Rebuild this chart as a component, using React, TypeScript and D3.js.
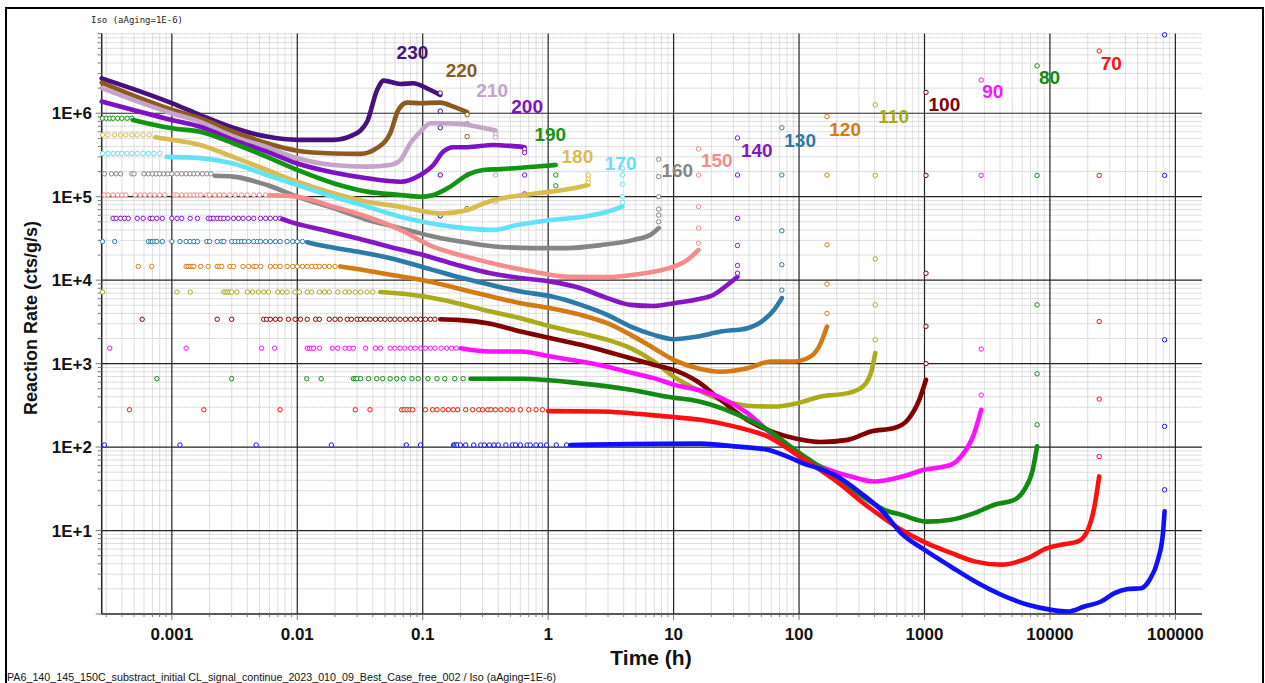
import React from 'react';
import * as d3 from 'd3';

type Pt = [number, number];

// ---------- DATA (time in h, rate in cts/g/s) ----------
const temperatures = [230, 220, 210, 200, 190, 180, 170, 160, 150, 140, 130, 120, 110, 100, 90, 80, 70, 60];
const seriesColors = ['#46107f', '#8c5a1e', '#c4a4c8', '#7f10c4', '#129612', '#d9bc4e', '#62e2f6', '#858585', '#f58c8c', '#8416c4', '#2a7aaa', '#d47a12', '#aaaa1a', '#820000', '#ff10ff', '#108a10', '#ff1010', '#1010ff'];
const showLabel = [true, true, true, true, true, true, true, true, true, true, true, true, true, true, true, true, true, false];
const labelTimes = [0.0828, 0.204, 0.358, 0.68, 1.04, 1.71, 3.78, 10.7, 22.1, 46, 102, 233, 568, 1440, 3500, 9910, 30800, 0];
const labelRates = [4.47e6, 2.72e6, 1.57e6, 1.01e6, 4.7e5, 2.56e5, 2.09e5, 1.73e5, 2.29e5, 3.02e5, 3.98e5, 5.4e5, 7.6e5, 1.07e6, 1.54e6, 2.24e6, 3.3e6, 0];

const c230: Pt[] = [[2.76e-4, 2.62e6], [1e-3, 1.32e6], [1.68e-3, 9.5e5], [3.08e-3, 6.7e5], [5.73e-3, 5.25e5], [0.01, 4.8e5], [0.0194, 4.8e5], [0.028, 5.5e5], [0.036, 7.9e5], [0.0433, 1.9e6], [0.0489, 2.46e6], [0.0664, 2.24e6], [0.0843, 2.29e6], [0.108, 1.99e6], [0.138, 1.66e6]];
const c220: Pt[] = [[2.76e-4, 2.32e6], [1e-3, 1.1e6], [1.68e-3, 8.7e5], [3.1e-3, 6.0e5], [5.73e-3, 4.37e5], [0.01, 3.56e5], [0.0194, 3.3e5], [0.0318, 3.26e5], [0.0433, 3.84e5], [0.0552, 5.8e5], [0.064, 1.1e6], [0.075, 1.34e6], [0.0957, 1.32e6], [0.138, 1.34e6], [0.176, 1.2e6], [0.226, 1.03e6]];
const c210: Pt[] = [[2.76e-4, 2.0e6], [1e-3, 1.0e6], [1.68e-3, 7.9e5], [3.08e-3, 5.25e5], [5.73e-3, 3.92e5], [0.01, 2.89e5], [0.0194, 2.4e5], [0.036, 2.29e5], [0.0552, 2.4e5], [0.0664, 2.75e5], [0.0798, 4.4e5], [0.0957, 6.0e5], [0.115, 7.6e5], [0.138, 7.6e5], [0.2, 7.45e5], [0.272, 6.9e5], [0.38, 6.2e5]];
const c200: Pt[] = [[2.76e-4, 1.38e6], [1e-3, 8.3e5], [1.68e-3, 6.9e5], [3.08e-3, 4.8e5], [5.73e-3, 3.47e5], [0.01, 2.5e5], [0.0194, 1.95e5], [0.036, 1.66e5], [0.0664, 1.51e5], [0.0957, 1.82e5], [0.1216, 2.4e5], [0.146, 3.47e5], [0.176, 3.92e5], [0.226, 3.92e5], [0.366, 4.17e5], [0.5, 4.06e5], [0.649, 3.92e5]];
const c190: Pt[] = [[4.9e-4, 8.3e5], [1e-3, 6.6e5], [1.68e-3, 6.0e5], [3.08e-3, 4.37e5], [5.73e-3, 3.0e5], [0.01, 2.09e5], [0.0194, 1.45e5], [0.036, 1.15e5], [0.0664, 1.05e5], [0.0957, 1.0e5], [0.1216, 1.05e5], [0.166, 1.32e5], [0.226, 1.82e5], [0.305, 2.09e5], [0.417, 2.14e5], [0.766, 2.29e5], [1.15, 2.4e5]];
const c180: Pt[] = [[7.4e-4, 5.16e5], [1e-3, 4.8e5], [1.68e-3, 4.17e5], [3.08e-3, 3.0e5], [5.73e-3, 2.09e5], [0.01, 1.51e5], [0.0194, 1.1e5], [0.036, 8.7e4], [0.0664, 7.6e4], [0.138, 6.3e4], [0.226, 6.9e4], [0.305, 8.3e4], [0.417, 9.5e4], [0.637, 1.05e5], [1.05, 1.15e5], [1.59, 1.26e5], [2.09, 1.38e5]];
const c170: Pt[] = [[9.1e-4, 3.0e5], [1.68e-3, 2.9e5], [3.08e-3, 2.5e5], [5.73e-3, 1.82e5], [0.01, 1.38e5], [0.0194, 1.0e5], [0.036, 7.6e4], [0.0664, 5.75e4], [0.115, 4.8e4], [0.226, 4.17e4], [0.366, 4.0e4], [0.566, 4.57e4], [1.05, 5.25e4], [1.91, 5.75e4], [2.96, 6.6e4], [3.9, 7.6e4]];
const c160: Pt[] = [[2.2e-3, 1.78e5], [3.08e-3, 1.74e5], [5.73e-3, 1.38e5], [0.01, 1.0e5], [0.0194, 7.3e4], [0.036, 5.3e4], [0.0664, 4.2e4], [0.1216, 3.33e4], [0.226, 2.82e4], [0.417, 2.5e4], [0.766, 2.42e4], [1.42, 2.42e4], [2.62, 2.63e4], [4.8, 3.04e4], [6.56, 3.5e4], [7.6, 4.2e4]];
const c150: Pt[] = [[6.0e-3, 1.04e5], [0.01, 1.0e5], [0.0194, 7.6e4], [0.036, 5.75e4], [0.0664, 4.0e4], [0.1216, 2.5e4], [0.226, 1.9e4], [0.417, 1.51e4], [0.766, 1.26e4], [1.42, 1.1e4], [2.96, 1.09e4], [4.55, 1.15e4], [6.95, 1.26e4], [10, 1.45e4], [12.9, 1.75e4], [15.8, 2.3e4]];
const c140: Pt[] = [[7.6e-3, 5.4e4], [8.8e-3, 5.0e4], [0.0161, 4.0e4], [0.0299, 3.18e4], [0.0552, 2.5e4], [0.101, 2.0e4], [0.188, 1.52e4], [0.347, 1.21e4], [0.603, 1.06e4], [1.05, 9.6e3], [1.82, 8.0e3], [2.96, 6.1e3], [4.55, 5.06e3], [6.95, 4.9e3], [10, 5.3e3], [15.5, 5.9e3], [20.9, 6.7e3], [26.9, 8.8e3], [32.3, 1.1e4]];
const c130: Pt[] = [[0.012, 2.85e4], [0.0161, 2.58e4], [0.0299, 2.2e4], [0.0552, 1.83e4], [0.101, 1.43e4], [0.188, 1.1e4], [0.347, 8.8e3], [0.603, 7.3e3], [1.05, 6.4e3], [1.82, 5.06e3], [2.96, 3.84e3], [4.55, 2.78e3], [6.95, 2.21e3], [10, 1.96e3], [15.5, 2.11e3], [23.8, 2.42e3], [38.8, 2.66e3], [52.6, 3.35e3], [63.2, 4.4e3], [72.9, 6.1e3]];
const c120: Pt[] = [[0.022, 1.46e4], [0.0299, 1.36e4], [0.0552, 1.16e4], [0.101, 1.0e4], [0.188, 8.0e3], [0.347, 6.4e3], [0.603, 5.3e3], [1.05, 4.6e3], [1.82, 3.84e3], [2.96, 3.05e3], [4.55, 2.21e3], [6.95, 1.53e3], [10, 1.11e3], [15.5, 8.8e2], [23.8, 8.0e2], [38.8, 8.8e2], [59.6, 1.06e3], [91.4, 1.06e3], [124, 1.22e3], [149, 1.76e3], [167, 2.78e3]];
const c110: Pt[] = [[0.0459, 7.2e3], [0.101, 6.4e3], [0.188, 5.3e3], [0.347, 4.2e3], [0.603, 3.5e3], [1.05, 2.78e3], [1.82, 2.32e3], [2.96, 1.93e3], [4.55, 1.53e3], [6.95, 1.06e3], [10, 7.0e2], [15.5, 4.86e2], [23.8, 3.69e2], [38.8, 3.13e2], [63.2, 3.06e2], [97.3, 3.36e2], [149, 4.04e2], [244, 4.43e2], [311, 5.1e2], [374, 7.7e2], [405, 1.34e3]];
const c100: Pt[] = [[0.138, 3.4e3], [0.188, 3.34e3], [0.347, 3.0e3], [0.603, 2.42e3], [1.05, 2.02e3], [1.82, 1.68e3], [2.96, 1.39e3], [4.55, 1.16e3], [6.95, 9.7e2], [10, 8.4e2], [15.5, 6.1e2], [23.8, 3.66e2], [38.8, 2.11e2], [63.2, 1.5e2], [97.3, 1.25e2], [149, 1.15e2], [244, 1.22e2], [374, 1.54e2], [574, 1.69e2], [735, 2.12e2], [908, 3.68e2], [1028, 6.4e2]];
const c90: Pt[] = [[0.2, 1.53e3], [0.347, 1.4e3], [0.603, 1.4e3], [1.05, 1.22e3], [1.82, 1.06e3], [2.96, 9.2e2], [4.55, 7.8e2], [6.95, 6.7e2], [10, 5.6e2], [15.5, 4.86e2], [23.8, 3.9e2], [38.8, 2.55e2], [63.2, 1.34e2], [92.2, 84.7], [149, 58.5], [259, 44.4], [398, 38.7], [651, 44], [995, 53.5], [1626, 61.4], [1954, 77], [2495, 147], [2830, 280]];
const c80: Pt[] = [[0.24, 6.6e2], [0.603, 6.6e2], [1.82, 5.8e2], [4.55, 4.86e2], [10, 3.9e2], [13.7, 3.68e2], [30.3, 2.55e2], [56.1, 1.61e2], [92.2, 93], [191, 44.5], [352, 23.4], [478, 17.7], [651, 15.5], [1028, 12.8], [1626, 13.5], [2495, 16.2], [3606, 20.4], [5212, 23.4], [6252, 30.8], [7295, 53.5], [7900, 102]];
const c70: Pt[] = [[1.0, 2.7e2], [2.62, 2.67e2], [8.9, 2.32e2], [16.4, 2.12e2], [30.3, 1.77e2], [56.1, 1.34e2], [92.2, 84.7], [191, 40.6], [352, 19.5], [651, 10.2], [1028, 7.1], [1626, 5.4], [2495, 4.27], [4083, 3.9], [6668, 4.68], [9616, 6.2], [12270, 6.76], [16700, 7.4], [20050, 10.2], [22650, 19.5], [24700, 44.5]];
const c60: Pt[] = [[1.5, 1.06e2], [16.4, 1.1e2], [30.3, 1.02e2], [56.1, 93], [80.9, 77], [110, 63], [141, 56], [191, 46.6], [311, 28.1], [478, 16.2], [651, 9.3], [995, 5.9], [1626, 3.69], [2660, 2.35], [4083, 1.7], [6668, 1.29], [10230, 1.12], [13900, 1.07], [18840, 1.23], [25600, 1.41], [32700, 1.78], [41800, 1.99], [53400, 2.04], [62300, 2.57], [72600, 4.47], [79600, 9.3], [82000, 17]];

const tail230 = [1.75e6, 1.06e6, 6.7e5, 1.82e5, 5.9e4];
const tail220 = [9.6e5, 7.45e5, 5.25e5, 1.82e5, 7.2e4];
const tail210 = [5.6e5, 5.16e5, 1.82e5, 8.7e4];
const tail200 = [3.7e5, 3.37e5, 1.82e5, 1.08e5];
const tail190 = [1.82e5, 1.35e5];
const tail180 = [1.5e5, 1.65e5, 1.82e5];
const tail170 = [8.5e4, 1.0e5, 1.41e5, 1.82e5, 2.19e5];
const tail160 = [5.0e4, 6.0e4, 7.1e4, 1.0e5, 1.74e5, 2.81e5];
const tail150 = [2.77e4, 4.2e4, 7.6e4, 1.82e5, 3.73e5];
const tail140 = [1.21e4, 1.5e4, 2.6e4, 5.5e4, 1.82e5, 5.06e5];
const tail130 = [7.6e3, 1.53e4, 3.9e4, 1.82e5, 6.7e5];
const tail120 = [4.0e3, 8.96e3, 2.65e4, 1.82e5, 9.1e5];
const tail110 = [1.93e3, 5.06e3, 1.8e4, 1.8e5, 1.26e6];
const tail100 = [1.0e3, 2.8e3, 1.21e4, 1.8e5, 1.78e6];
const tail90 = [4.2e2, 1.49e3, 1.8e5, 2.5e6];
const tail80 = [1.85e2, 7.55e2, 5.06e3, 1.8e5, 3.7e6];
const tail70 = [77, 3.76e2, 3.19e3, 1.8e5, 5.57e6];
const tail60 = [30.8, 1.77e2, 1.93e3, 1.8e5, 8.7e6];

const levels = [0, 0, 0, 0, 8.7e5, 5.5e5, 3.3e5, 1.88e5, 1.05e5, 5.5e4, 2.9e4, 1.46e4, 7.2e3, 3.4e3, 1.53e3, 6.6e2, 2.8e2, 1.06e2];
const m190 = [2.8e-4, 3.0e-4, 3.2e-4, 3.4e-4, 3.7e-4, 4.0e-4, 4.4e-4, 4.8e-4];
const m180 = [2.8e-4, 3.1e-4, 3.5e-4, 3.9e-4, 4.3e-4, 4.8e-4, 5.3e-4, 5.9e-4, 6.6e-4];
const m170 = [2.8e-4, 3.1e-4, 3.4e-4, 3.7e-4, 4.0e-4, 4.4e-4, 4.8e-4, 5.3e-4, 5.9e-4, 6.5e-4, 7.2e-4, 8.0e-4];
const m160 = [2.9e-4, 3.3e-4, 3.6e-4, 3.9e-4, 4.8e-4, 5.0e-4, 6.0e-4, 6.5e-4, 7.0e-4, 7.5e-4, 8.0e-4, 8.6e-4, 9.3e-4, 1.0e-3, 1.1e-3, 1.2e-3, 1.3e-3, 1.4e-3, 1.5e-3, 1.6e-3, 1.75e-3, 1.9e-3, 2.05e-3];
const m150 = [2.9e-4, 3.1e-4, 3.4e-4, 3.7e-4, 4.0e-4, 4.3e-4, 5.1e-4, 5.6e-4, 6.1e-4, 6.7e-4, 7.3e-4, 8.0e-4, 8.8e-4, 1.05e-3, 1.1e-3, 1.2e-3, 1.3e-3, 1.4e-3, 1.5e-3, 1.6e-3, 1.7e-3, 1.9e-3, 2.0e-3, 2.2e-3, 2.4e-3, 2.6e-3, 2.9e-3, 3.2e-3, 3.6e-3, 4.0e-3, 4.5e-3, 5.0e-3, 5.6e-3];
const m140 = [3.4e-4, 3.6e-4, 3.9e-4, 4.2e-4, 4.5e-4, 5.3e-4, 5.9e-4, 6.7e-4, 7.0e-4, 7.6e-4, 8.4e-4, 1.0e-3, 1.1e-3, 1.2e-3, 1.4e-3, 1.6e-3, 1.95e-3, 2.05e-3, 2.15e-3, 2.3e-3, 2.45e-3, 2.6e-3, 2.8e-3, 3.1e-3, 3.4e-3, 3.7e-3, 4.1e-3, 4.5e-3, 5.1e-3, 5.6e-3, 6.1e-3, 6.7e-3, 7.3e-3];
const m130 = [2.8e-4, 3.5e-4, 6.5e-4, 6.8e-4, 7.0e-4, 7.3e-4, 7.6e-4, 8.4e-4, 1.0e-3, 1.16e-3, 1.3e-3, 1.4e-3, 1.5e-3, 1.6e-3, 1.9e-3, 2.0e-3, 2.3e-3, 2.5e-3, 2.6e-3, 3.0e-3, 3.2e-3, 3.4e-3, 3.6e-3, 3.8e-3, 4.1e-3, 4.5e-3, 4.8e-3, 5.1e-3, 5.6e-3, 6.1e-3, 6.7e-3, 7.3e-3, 8.3e-3, 9.2e-3, 1.0e-2, 1.1e-2];
const m120 = [5.4e-4, 6.9e-4, 1.3e-3, 1.35e-3, 1.4e-3, 1.45e-3, 1.5e-3, 1.7e-3, 1.95e-3, 2.3e-3, 2.4e-3, 2.5e-3, 2.9e-3, 3.1e-3, 3.7e-3, 4.1e-3, 4.5e-3, 4.7e-3, 5.1e-3, 6.1e-3, 6.7e-3, 7.3e-3, 8.3e-3, 9.2e-3, 1.0e-2, 1.1e-2, 1.2e-2, 1.3e-2, 1.4e-2, 1.5e-2, 1.65e-2, 1.8e-2, 2.0e-2];
const m110 = [2.8e-4, 1.1e-3, 1.4e-3, 2.6e-3, 2.7e-3, 2.8e-3, 2.9e-3, 3.0e-3, 3.3e-3, 4.0e-3, 4.4e-3, 4.9e-3, 5.4e-3, 5.9e-3, 7.0e-3, 7.6e-3, 8.3e-3, 9.6e-3, 1.04e-2, 1.2e-2, 1.3e-2, 1.5e-2, 1.65e-2, 1.8e-2, 2.1e-2, 2.4e-2, 2.6e-2, 2.9e-2, 3.2e-2, 3.6e-2, 4.0e-2];
const m100 = [5.8e-4, 2.3e-3, 3.0e-3, 5.4e-3, 5.7e-3, 6.1e-3, 6.7e-3, 7.3e-3, 8.5e-3, 9.6e-3, 1.06e-2, 1.2e-2, 1.4e-2, 1.5e-2, 1.8e-2, 2.0e-2, 2.2e-2, 2.5e-2, 2.7e-2, 3.0e-2, 3.2e-2, 3.5e-2, 3.8e-2, 4.2e-2, 4.6e-2, 5.0e-2, 5.5e-2, 6.0e-2, 6.6e-2, 7.3e-2, 8.0e-2, 8.8e-2, 9.6e-2, 0.105, 0.115, 0.125];
const m90 = [3.2e-4, 1.3e-3, 5.2e-3, 6.6e-3, 1.2e-2, 1.25e-2, 1.3e-2, 1.35e-2, 1.5e-2, 1.9e-2, 2.1e-2, 2.4e-2, 2.6e-2, 2.8e-2, 3.5e-2, 4.2e-2, 4.6e-2, 5.5e-2, 6.0e-2, 6.6e-2, 7.2e-2, 8.0e-2, 8.7e-2, 9.6e-2, 0.105, 0.115, 0.125, 0.14, 0.155, 0.17, 0.185];
const m80 = [7.6e-4, 3.0e-3, 1.19e-2, 1.55e-2, 2.8e-2, 2.9e-2, 3.0e-2, 3.2e-2, 3.7e-2, 4.3e-2, 4.8e-2, 5.5e-2, 6.2e-2, 7.0e-2, 8.2e-2, 9.2e-2, 0.11, 0.13, 0.15, 0.18, 0.21];
const m70 = [4.6e-4, 1.8e-3, 7.3e-3, 2.9e-2, 3.8e-2, 6.8e-2, 7.1e-2, 7.5e-2, 7.9e-2, 8.3e-2, 0.105, 0.12, 0.13, 0.145, 0.16, 0.175, 0.19, 0.22, 0.25, 0.28, 0.3, 0.33, 0.35, 0.38, 0.42, 0.47, 0.52, 0.6, 0.7, 0.8, 0.9];
const m60 = [2.9e-4, 1.16e-3, 4.7e-3, 1.87e-2, 7.4e-2, 9.6e-2, 0.176, 0.18, 0.185, 0.19, 0.2, 0.22, 0.255, 0.29, 0.31, 0.34, 0.37, 0.4, 0.46, 0.52, 0.55, 0.6, 0.68, 0.72, 0.8, 0.87, 0.97, 1.16, 1.4];

const curves: Pt[][] = [c230, c220, c210, c200, c190, c180, c170, c160, c150, c140, c130, c120, c110, c100, c90, c80, c70, c60];
const tails: number[][] = [tail230, tail220, tail210, tail200, tail190, tail180, tail170, tail160, tail150, tail140, tail130, tail120, tail110, tail100, tail90, tail80, tail70, tail60];
const markers: number[][] = [[], [], [], [], m190, m180, m170, m160, m150, m140, m130, m120, m110, m100, m90, m80, m70, m60];

const xTickValues = [0.001, 0.01, 0.1, 1, 10, 100, 1000, 10000, 100000];
const xTickLabels = ['0.001', '0.01', '0.1', '1', '10', '100', '1000', '10000', '100000'];
const yTickValues = [10, 100, 1000, 10000, 100000, 1000000];
const yTickLabels = ['1E+1', '1E+2', '1E+3', '1E+4', '1E+5', '1E+6'];

const xDomain: [number, number] = [2.76e-4, 1.63e5];
const yDomain: [number, number] = [1, 9e6];

// ---------- LAYOUT ----------
const W = 1265;
const H = 683;
const plotL = 101.7, plotR = 1202, plotT = 33.6, plotB = 614;

export default function App() {
  const x = d3.scaleLog().domain(xDomain).range([plotL, plotR]);
  const y = d3.scaleLog().domain(yDomain).range([plotB, plotT]);

  const line = d3.line<Pt>().x(d => x(d[0])).y(d => y(d[1])).curve(d3.curveMonotoneX);

  const xAll: number[] = [];
  for (let e = -4; e <= 5; e++) for (let k = 1; k <= 9; k++) {
    const v = k * Math.pow(10, e);
    if (v >= xDomain[0] && v <= xDomain[1]) xAll.push(v);
  }
  const yAll: number[] = [];
  for (let e = 0; e <= 6; e++) for (let k = 1; k <= 9; k++) {
    const v = k * Math.pow(10, e);
    if (v >= yDomain[0] && v <= yDomain[1]) yAll.push(v);
  }
  const isMajor = (v: number) => Math.abs(Math.log10(v) - Math.round(Math.log10(v))) < 1e-9;

  const font = 'Arial, "Liberation Sans", Helvetica, sans-serif';

  return (
    <svg width={W} height={H} style={{ position: 'absolute', left: 0, top: 0, background: '#fff' }}>
      <rect x={0} y={0} width={W} height={H} fill="#fff" />
      <path d={`M6,700 V8 H1263 V700`} fill="none" stroke="#000" strokeWidth={2} />

      <text x={91} y={23} fontFamily='"DejaVu Sans Mono", monospace' fontSize={9} textLength={92} lengthAdjust="spacingAndGlyphs" fill="#222">Iso (aAging=1E-6)</text>

      <g>
        {xAll.filter(v => !isMajor(v)).map((v, i) => (
          <line key={'xm' + i} x1={x(v)} x2={x(v)} y1={plotT} y2={plotB} stroke="#bdbdbd" strokeWidth={1} strokeDasharray="1,1" />
        ))}
        {yAll.filter(v => !isMajor(v)).map((v, i) => (
          <line key={'ym' + i} x1={plotL} x2={plotR} y1={y(v)} y2={y(v)} stroke="#bdbdbd" strokeWidth={1} strokeDasharray="1,1" />
        ))}
      </g>
      <g>
        {xTickValues.map((v, i) => (
          <line key={'xM' + i} x1={x(v)} x2={x(v)} y1={plotT} y2={plotB} stroke="#222" strokeWidth={1.2} />
        ))}
        {yTickValues.map((v, i) => (
          <line key={'yM' + i} x1={plotL} x2={plotR} y1={y(v)} y2={y(v)} stroke="#222" strokeWidth={1.2} />
        ))}
      </g>
      <line x1={plotL} x2={plotL} y1={plotT} y2={plotB} stroke="#222" strokeWidth={1.5} />
      <line x1={plotL} x2={plotR} y1={plotB} y2={plotB} stroke="#222" strokeWidth={1.5} />
      {xAll.map((v, i) => (
        <line key={'xt' + i} x1={x(v)} x2={x(v)} y1={plotB} y2={plotB + (isMajor(v) ? 6 : 3)} stroke="#777" strokeWidth={1} />
      ))}
      {yAll.map((v, i) => (
        <line key={'yt' + i} x1={plotL - (isMajor(v) ? 6 : 4)} x2={plotL} y1={y(v)} y2={y(v)} stroke="#777" strokeWidth={1} />
      ))}

      {xTickValues.map((v, i) => (
        <text key={'xl' + i} x={x(v)} y={640} textAnchor="middle" fontFamily={font} fontWeight="bold" fontSize={17} fill="#111">{xTickLabels[i]}</text>
      ))}
      {yTickValues.map((v, i) => (
        <text key={'yl' + i} x={92} y={y(v) + 6} textAnchor="end" fontFamily={font} fontWeight="bold" fontSize={17} fill="#111">{yTickLabels[i]}</text>
      ))}
      <text x={651} y={665} textAnchor="middle" fontFamily={font} fontWeight="bold" fontSize={21} fill="#111">Time (h)</text>
      <text transform={`translate(37,318) rotate(-90)`} textAnchor="middle" fontFamily={font} fontWeight="bold" fontSize={18} fill="#111">Reaction Rate (cts/g/s)</text>

      <g>
        {curves.map((c, si) => {
          const col = seriesColors[si];
          const lastT = c[c.length - 1][0];
          return (
            <g key={'s' + si}>
              {markers[si].map((t, j) => (
                <circle key={'m' + j} cx={x(t)} cy={y(levels[si])} r={2.2} fill="#fff" stroke={col} strokeWidth={1} />
              ))}
              <path d={line(c) || ''} fill="none" stroke={col} strokeWidth={4.6} strokeLinecap="round" strokeLinejoin="round" />
              {tails[si].map((v, j) => (
                <circle key={'t' + j} cx={x(lastT)} cy={y(v)} r={2.2} fill="#fff" stroke={col} strokeWidth={1} />
              ))}
            </g>
          );
        })}
      </g>

      {temperatures.map((tmp, si) => showLabel[si] ? (
        <text key={'lab' + si} x={x(labelTimes[si])} y={y(labelRates[si])} textAnchor="middle" fontFamily={font} fontWeight="bold" fontSize={19} fill={seriesColors[si]}>{tmp}</text>
      ) : null)}

      <text x={7} y={681} fontFamily={font} fontSize={11} textLength={549} lengthAdjust="spacingAndGlyphs" fill="#111">PA6_140_145_150C_substract_initial CL_signal_continue_2023_010_09_Best_Case_free_002 / Iso (aAging=1E-6)</text>
    </svg>
  );
}
